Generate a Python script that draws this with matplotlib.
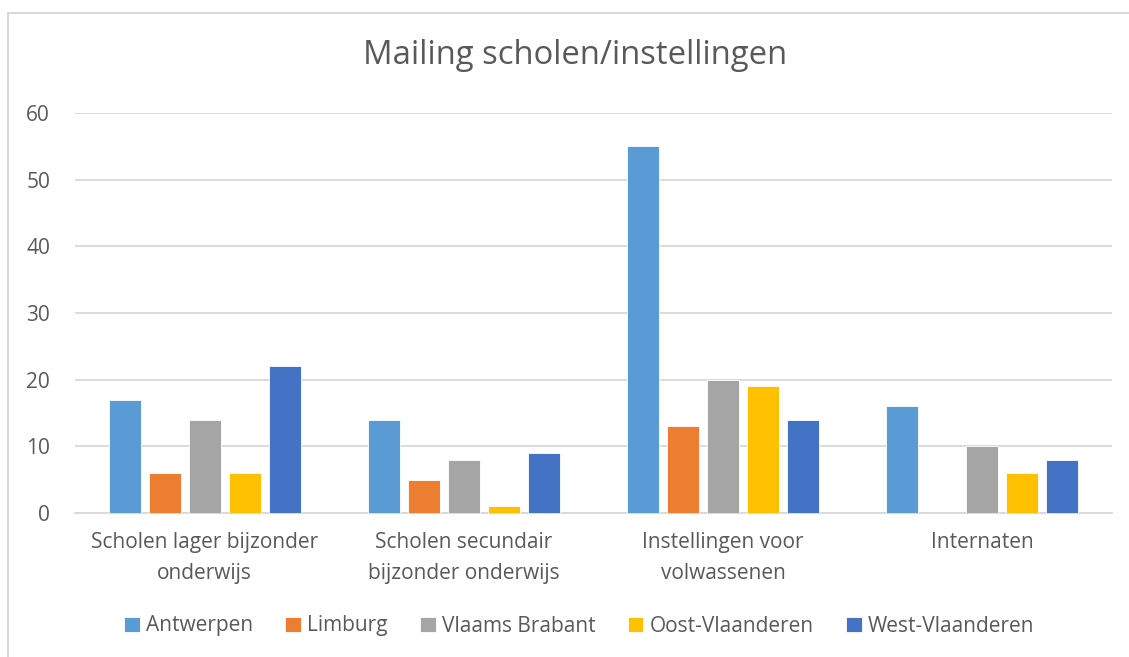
import numpy as np
import matplotlib.pyplot as plt
from matplotlib.patches import Rectangle

plt.rcParams['font.family'] = ['Open Sans', 'DejaVu Sans']

# Data
categories = ['Scholen lager bijzonder\nonderwijs', 'Scholen secundair\nbijzonder onderwijs',
              'Instellingen voor\nvolwassenen', 'Internaten']
series = ['Antwerpen', 'Limburg', 'Vlaams Brabant', 'Oost-Vlaanderen', 'West-Vlaanderen']
antwerpen = [17, 14, 55, 16]
limburg = [6, 5, 13, 0]
vlaams_brabant = [14, 8, 20, 10]
oost_vlaanderen = [6, 1, 19, 6]
west_vlaanderen = [22, 9, 14, 8]
values = [antwerpen, limburg, vlaams_brabant, oost_vlaanderen, west_vlaanderen]
colors = ['#5B9BD5', '#ED7D31', '#A5A5A5', '#FFC000', '#4472C4']

text_color = '#595959'

fig = plt.figure(figsize=(11.29, 6.57), dpi=100)
fig.patches.append(Rectangle((8 / 1129, -0.1), 1.2, (657 - 13) / 657 + 0.1,
                             transform=fig.transFigure, fill=False,
                             edgecolor='#D9D9D9', linewidth=1.5))

ax = fig.add_axes([75 / 1129, 144 / 657, 1037 / 1129, 400 / 657])

x = np.arange(len(categories))
step = 40 / 259
width = 32 / 259
for i, (name, vals, c) in enumerate(zip(series, values, colors)):
    ax.bar(x + (i - 2) * step, vals, width, color=c, label=name,
           edgecolor='white', linewidth=0.6, zorder=3)

ax.set_xlim(-0.5, len(categories) - 0.5)
ax.set_ylim(0, 60)
ax.set_yticks(range(0, 61, 10))
ax.grid(axis='y', color='#D9D9D9', linewidth=1.3, zorder=0)
for s in ['top', 'right', 'left']:
    ax.spines[s].set_visible(False)
ax.spines['bottom'].set_color('#D9D9D9')
ax.spines['bottom'].set_linewidth(1.3)

ax.set_xticks(x)
ax.set_xticklabels(categories, fontsize=15, color=text_color, linespacing=1.6)
ax.tick_params(axis='x', length=0, pad=14)
ax.tick_params(axis='y', length=0, pad=18, labelsize=15, labelcolor=text_color)

fig.text(0.509, 1 - 56 / 657, 'Mailing scholen/instellingen', ha='center', va='center',
         fontsize=23.7, color=text_color)

fig.legend(loc='center', bbox_to_anchor=(0.513, 1 - 626 / 657), ncol=5, frameon=False,
           fontsize=15, labelcolor=text_color, handlelength=0.75, handleheight=0.75,
           handletextpad=0.3, columnspacing=1.55)

plt.savefig('out.png', dpi=100)
